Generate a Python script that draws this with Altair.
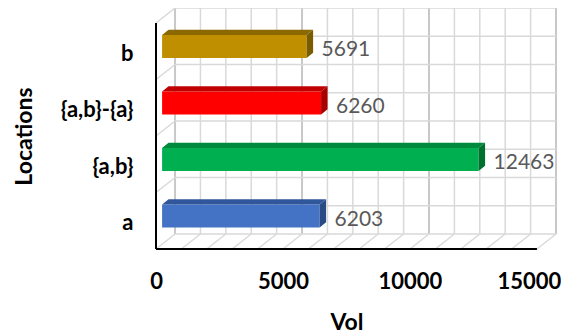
import json
import altair as alt
import pandas as pd

# ---- data ----
CATEGORIES = ["a", "{a,b}", "{a,b}-{a}", "b"]
VOLUMES = [6203, 12463, 6260, 5691]
FRONT_COLORS = ["#4472C4", "#00B050", "#FF0000", "#BF8F00"]
TOP_COLORS = ["#30569B", "#008A3D", "#C00000", "#8C6900"]
SIDE_COLORS = ["#2A4A86", "#00702F", "#A80000", "#7A5C00"]
X_TICKS = [0, 5000, 10000, 15000]

# ---- 3D geometry (axis units) ----
XMAX = 15000
MINOR = 1000
DX = 750          # depth shift along x
DY = 0.2655       # depth shift along y (category units)
F, G = 0.32, 0.66 # bar depth span (fraction of depth)
HALF = 0.2035     # half bar height (category units)
N = len(CATEGORIES)
W, H = 400, 241
FONT = "Lato"

front_rows, top_rows, side_rows, label_rows = [], [], [], []
for i, (cat, v) in enumerate(zip(CATEGORIES, VOLUMES)):
    c = i + 0.5
    front_rows.append(dict(cat=cat, x0=F * DX, x1=v + F * DX,
                           y0=c - HALF + F * DY, y1=c + HALF + F * DY,
                           color=FRONT_COLORS[i]))
    for d in (F, G):
        top_rows.append(dict(cat=cat, d=d, y=c + HALF + d * DY,
                             xl=d * DX, xr=v + d * DX, color=TOP_COLORS[i]))
        side_rows.append(dict(cat=cat, d=d, x=v + d * DX,
                              ylo=c - HALF + d * DY, yhi=c + HALF + d * DY,
                              color=SIDE_COLORS[i]))
    label_rows.append(dict(cat=cat, x=v, y=c, text=str(v)))

front = pd.DataFrame(front_rows)
top = pd.DataFrame(top_rows)
side = pd.DataFrame(side_rows)
labels = pd.DataFrame(label_rows)

wall_v = pd.DataFrame([dict(x=k * MINOR + DX, y=DY, y2=N + DY, major=(k % 5 == 0))
                       for k in range(XMAX // MINOR + 1)])
wall_h = pd.DataFrame([dict(x=DX, x2=XMAX + DX, y=DY + j * 0.5)
                       for j in range(2 * N + 1)])
floor = pd.DataFrame([dict(x=k * MINOR, x2=k * MINOR + DX, y=0, y2=DY)
                      for k in range(XMAX // MINOR + 1)])
side_wall = pd.DataFrame([dict(x=0, x2=DX, y=j, y2=j + DY) for j in range(1, N + 1)])
axis_lines = pd.DataFrame([dict(x=0, x2=0, y=0, y2=N), dict(x=0, x2=XMAX, y=0, y2=0)])

xs = alt.Scale(domain=[0, XMAX + DX], nice=False, zero=False)
ys = alt.Scale(domain=[0, N + DY], nice=False, zero=False)

label_expr = json.dumps(CATEGORIES) + "[floor(datum.value)]"

x_axis = alt.Axis(values=X_TICKS, format="d", domain=False, ticks=False, tickSize=0,
                  grid=False, labelFont=FONT, labelFontWeight="bold", labelFontSize=22,
                  labelColor="#000000", labelPadding=22, labelFlush=False,
                  labelOffset={"condition": {"test": f"datum.value == {XMAX}", "value": -8},
                               "value": 0},
                  title="Vol", titleFont=FONT, titleFontSize=23, titleFontWeight="bold",
                  titleColor="#000000", titleX=190.5, titleY=80,
                  titleBaseline="alphabetic", titleAnchor="middle")
y_axis = alt.Axis(values=[i + 0.5 for i in range(N)], labelExpr=label_expr,
                  domain=False, ticks=False, tickSize=0, grid=False,
                  labelFont=FONT, labelFontWeight="bold", labelFontSize=22,
                  labelColor="#000000", labelPadding=23, labelOffset=2,
                  title="Locations", titleFont=FONT, titleFontSize=23,
                  titleFontWeight="bold", titleColor="#000000", titleAngle=270,
                  titleX=-125, titleY=128, titleBaseline="alphabetic",
                  titleAlign="center")


def X(field):
    return alt.X(field, type="quantitative", scale=xs, axis=x_axis, stack=None)


def Y(field):
    return alt.Y(field, type="quantitative", scale=ys, axis=y_axis, stack=None)


wall_minor = alt.Chart(wall_v).transform_filter("!datum.major").mark_rule(
    color="#D9D9D9", strokeWidth=1.5).encode(x=X("x"), y=Y("y"), y2="y2:Q")
wall_major = alt.Chart(wall_v).transform_filter("datum.major").mark_rule(
    color="#C8C8C8", strokeWidth=2).encode(x=X("x"), y=Y("y"), y2="y2:Q")
wall_hz = alt.Chart(wall_h).mark_rule(color="#D9D9D9", strokeWidth=1.5).encode(
    x=X("x"), x2="x2:Q", y=Y("y"))
floor_l = alt.Chart(floor).mark_rule(color="#D9D9D9", strokeWidth=1.5).encode(
    x=X("x"), x2="x2:Q", y=Y("y"), y2="y2:Q")
side_l = alt.Chart(side_wall).mark_rule(color="#D9D9D9", strokeWidth=1.5).encode(
    x=X("x"), x2="x2:Q", y=Y("y"), y2="y2:Q")

front_faces = alt.Chart(front).mark_rect().encode(
    x=X("x0"), x2="x1:Q", y=Y("y0"), y2="y1:Q",
    color=alt.Color("color:N", scale=None))
side_faces = alt.Chart(side).mark_area(orient="vertical").encode(
    x=X("x"), y=Y("ylo"), y2="yhi:Q",
    color=alt.Color("color:N", scale=None), detail="cat:N")
top_faces = alt.Chart(top).mark_area(orient="horizontal").encode(
    y=Y("y"), x=X("xl"), x2="xr:Q",
    color=alt.Color("color:N", scale=None), detail="cat:N")

axes = alt.Chart(axis_lines).mark_rule(color="#000000", strokeWidth=2).encode(
    x=X("x"), x2="x2:Q", y=Y("y"), y2="y2:Q")

text = alt.Chart(labels).mark_text(align="left", baseline="middle", dx=21, dy=-1,
                                   font=FONT, fontSize=21, color="#595959").encode(
    x=X("x"), y=Y("y"), text="text:N")

chart = alt.layer(
    wall_minor, wall_major, wall_hz, floor_l, side_l,
    front_faces, side_faces, top_faces, axes, text
).properties(
    width=W, height=H,
    autosize=alt.AutoSizeParams(type="none"),
    padding={"left": 148, "top": 0, "right": 5, "bottom": 86},
    background="#FFFFFF",
).configure_view(stroke=None)

chart.save("out.html", embed_options={"renderer": "svg", "actions": False})
